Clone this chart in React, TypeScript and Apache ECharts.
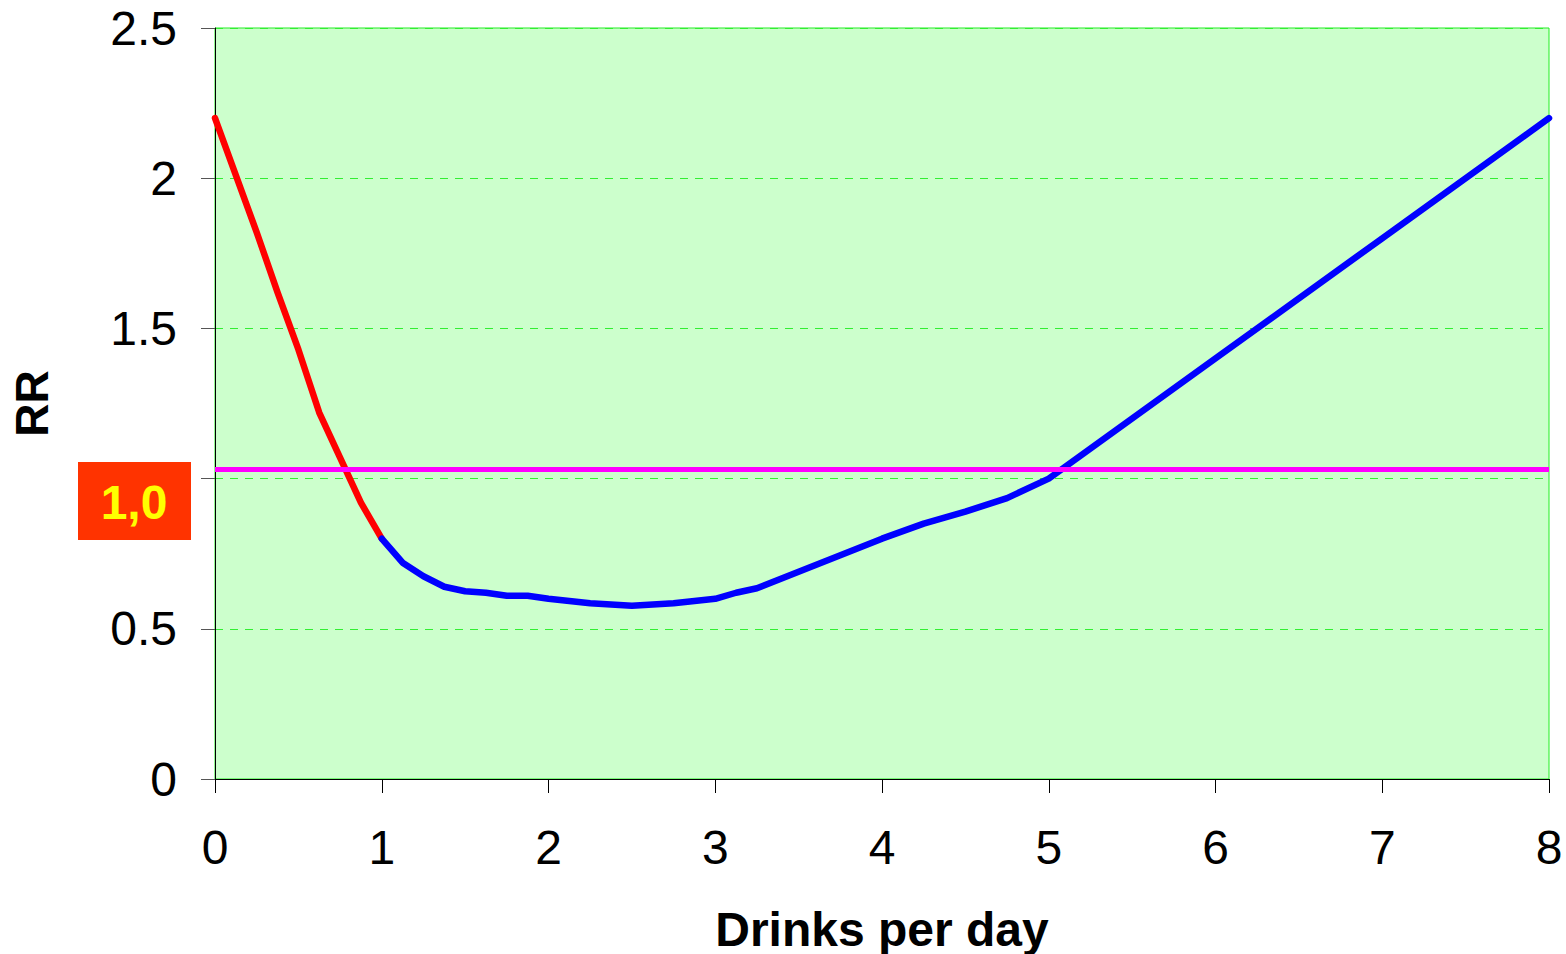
import React, { useEffect, useRef } from "react";
import * as echarts from "echarts";

const redX = [0, 0.25, 0.375, 0.5, 0.625, 0.75, 0.875, 1.0];
const redY = [2.2, 1.82, 1.62, 1.43, 1.22, 1.07, 0.92, 0.8];

const blueX = [1.0, 1.125, 1.25, 1.375, 1.5, 1.625, 1.75, 1.875, 2.0, 2.25, 2.5, 2.75, 3.0, 3.125, 3.25, 3.5, 3.75, 4.0, 4.25, 4.5, 4.75, 5.0, 6, 7, 8];
const blueY = [0.8, 0.72, 0.675, 0.64, 0.625, 0.62, 0.61, 0.61, 0.6, 0.585, 0.577, 0.585, 0.6, 0.62, 0.635, 0.69, 0.745, 0.8, 0.85, 0.89, 0.935, 1.0, 1.4, 1.8, 2.2];

const refLevel = 1.03;
const refLabel = "1,0";
const xTitle = "Drinks per day";
const yTitle = "RR";

const FONT = "'Liberation Sans', Arial, sans-serif";

export default function App() {
  const ref = useRef<HTMLDivElement>(null);
  useEffect(() => {
    if (!ref.current) return;
    const chart = echarts.init(ref.current, null, { renderer: "svg" });
    const grid = { left: 215, top: 28, right: 17, bottom: 175 };
    chart.setOption({
      animation: false,
      backgroundColor: "#ffffff",
      grid: {
        ...grid,
        containLabel: false,
        outerBoundsMode: "none",
        show: true,
        backgroundColor: "#CCFFCC",
        borderColor: "#22EE22",
        borderWidth: 1,
      },
      xAxis: {
        type: "value",
        min: 0,
        max: 8,
        interval: 1,
        name: xTitle,
        nameLocation: "middle",
        nameGap: 126,
        nameTextStyle: { fontFamily: FONT, fontSize: 48, fontWeight: "bold", color: "#000" },
        axisLine: { show: true, onZero: false, lineStyle: { color: "#000", width: 1 } },
        axisTick: { show: true, length: 14, lineStyle: { color: "#000" } },
        axisLabel: { fontFamily: FONT, fontSize: 48, color: "#000", margin: 44 },
        splitLine: { show: false },
      },
      yAxis: {
        type: "value",
        min: 0,
        max: 2.5,
        interval: 0.5,
        name: yTitle,
        nameLocation: "middle",
        nameGap: 160,
        nameRotate: 90,
        nameTextStyle: { fontFamily: FONT, fontSize: 46, fontWeight: "bold", color: "#000" },
        axisLine: { show: true, lineStyle: { color: "#000", width: 1 } },
        axisTick: { show: true, length: 14, lineStyle: { color: "#555" } },
        axisLabel: {
          fontFamily: FONT,
          fontSize: 48,
          color: "#000",
          margin: 38,
          formatter: (v: number) => (v === 1 ? "" : String(v)),
        },
        splitLine: { show: true, lineStyle: { color: "#33EE33", type: [8, 7], width: 1 } },
      },
      series: [
        {
          type: "line",
          data: redX.map((x, i) => [x, redY[i]]),
          symbol: "none",
          lineStyle: { color: "#FF0000", width: 6.5, cap: "round", join: "round" },
          z: 3,
        },
        {
          type: "line",
          data: blueX.map((x, i) => [x, blueY[i]]),
          symbol: "none",
          lineStyle: { color: "#0000FF", width: 6.5, cap: "round", join: "round" },
          z: 3,
        },
        {
          type: "line",
          data: [
            [0, refLevel],
            [8, refLevel],
          ],
          symbol: "none",
          lineStyle: { color: "#FF00FF", width: 5 },
          z: 4,
        },
      ],
      graphic: [
        {
          type: "group",
          left: 78,
          top: 462,
          children: [
            {
              type: "rect",
              shape: { x: 0, y: 0, width: 113, height: 78 },
              style: { fill: "#FF3300" },
            },
            {
              type: "text",
              x: 56,
              y: 40,
              style: {
                text: refLabel,
                fill: "#FFFF00",
                font: `bold 48px ${FONT}`,
                align: "center",
                verticalAlign: "middle",
              },
            },
          ],
        },
      ],
    });
    return () => chart.dispose();
  }, []);
  return (
    <div
      ref={ref}
      style={{ position: "fixed", left: 0, top: 0, width: 1566, height: 954 }}
    />
  );
}
